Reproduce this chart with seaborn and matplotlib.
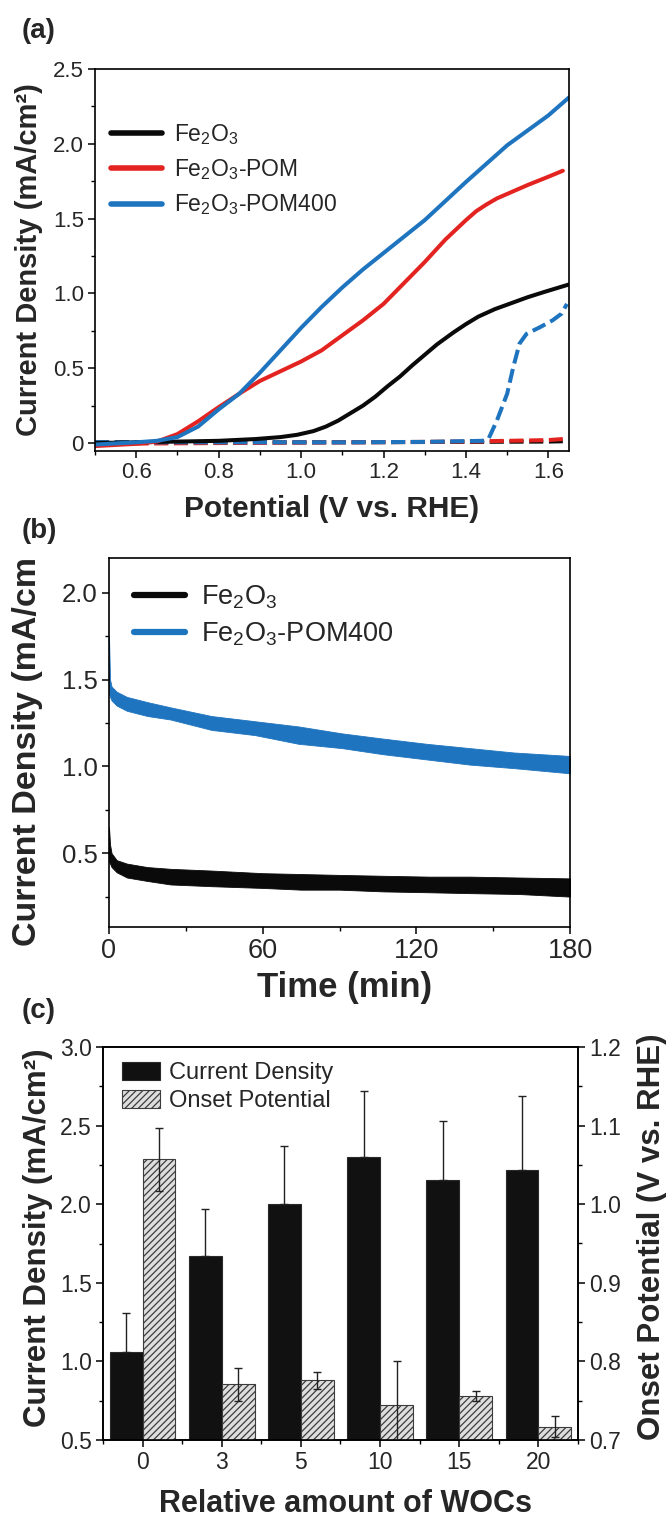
import numpy as np
import matplotlib
matplotlib.use("Agg")
import matplotlib.pyplot as plt
import seaborn as sns
from matplotlib.lines import Line2D
from matplotlib.patches import Patch
from matplotlib.ticker import MultipleLocator, FuncFormatter

# ---------------- data ----------------
# (a) linear sweep voltammetry, potential in V vs. RHE, current in mA/cm2
pot_fe = [0.50, 0.60, 0.70, 0.80, 0.89, 0.95, 0.99, 1.03, 1.06, 1.09, 1.12, 1.15,
          1.18, 1.21, 1.24, 1.27, 1.30, 1.33, 1.37, 1.40, 1.43, 1.47, 1.51, 1.55, 1.59, 1.65]
j_fe = [0.00, 0.005, 0.01, 0.015, 0.027, 0.04, 0.055, 0.08, 0.11, 0.15, 0.20, 0.25,
        0.31, 0.38, 0.445, 0.52, 0.59, 0.66, 0.74, 0.795, 0.845, 0.895, 0.935, 0.975, 1.01, 1.06]

pot_pom = [0.50, 0.60, 0.65, 0.70, 0.75, 0.80, 0.85, 0.90, 0.95, 1.00, 1.05, 1.10,
           1.15, 1.20, 1.25, 1.30, 1.35, 1.40, 1.425, 1.45, 1.475, 1.50, 1.55, 1.60, 1.635]
j_pom = [-0.02, -0.005, 0.01, 0.06, 0.145, 0.24, 0.33, 0.415, 0.48, 0.545, 0.62, 0.72,
         0.82, 0.93, 1.07, 1.21, 1.36, 1.49, 1.55, 1.595, 1.635, 1.665, 1.725, 1.78, 1.82]

pot_pom400 = [0.50, 0.60, 0.65, 0.70, 0.75, 0.80, 0.85, 0.90, 0.95, 1.00, 1.05, 1.10,
              1.15, 1.20, 1.30, 1.40, 1.50, 1.60, 1.65]
j_pom400 = [-0.01, 0.005, 0.015, 0.04, 0.11, 0.225, 0.33, 0.47, 0.62, 0.77, 0.91, 1.04,
            1.16, 1.27, 1.49, 1.745, 1.99, 2.19, 2.31]

# dark scans
pot_fe_dark = [0.50, 0.80, 1.00, 1.20, 1.40, 1.60, 1.635]
j_fe_dark = [0.005, 0.005, 0.005, 0.006, 0.008, 0.01, 0.012]
pot_pom_dark = [0.50, 0.80, 1.00, 1.20, 1.40, 1.60, 1.635]
j_pom_dark = [-0.005, 0.0, 0.003, 0.006, 0.01, 0.02, 0.027]
pot_pom400_dark = [0.50, 0.70, 0.90, 1.10, 1.30, 1.44, 1.455, 1.475, 1.50, 1.515,
                   1.53, 1.547, 1.58, 1.61, 1.632, 1.645]
j_pom400_dark = [0.005, 0.005, 0.005, 0.005, 0.008, 0.015, 0.03, 0.15, 0.33, 0.51,
                 0.665, 0.73, 0.775, 0.82, 0.865, 0.93]

# (b) chronoamperometry: time in min, upper / lower edge of the current trace
t_fe = [0, 0.4, 1.0, 3, 7, 15, 24, 40, 60, 75, 90, 107, 125, 141, 160, 180]
hi_fe = [0.65, 0.55, 0.50, 0.46, 0.44, 0.42, 0.41, 0.40, 0.385, 0.38, 0.375, 0.37, 0.365, 0.365, 0.36, 0.355]
lo_fe = [0.45, 0.44, 0.42, 0.39, 0.36, 0.34, 0.32, 0.31, 0.30, 0.29, 0.29, 0.28, 0.275, 0.27, 0.265, 0.25]

t_pom400 = [0, 0.4, 1.0, 3, 7, 15, 24, 40, 57, 74, 91, 107, 124, 141, 158, 180]
hi_pom400 = [1.75, 1.50, 1.46, 1.43, 1.40, 1.37, 1.34, 1.29, 1.26, 1.23, 1.19, 1.16, 1.13, 1.105, 1.08, 1.06]
lo_pom400 = [1.42, 1.40, 1.38, 1.35, 1.32, 1.29, 1.27, 1.21, 1.18, 1.13, 1.105, 1.07, 1.04, 1.01, 0.99, 0.96]

# (c) statistics versus relative amount of WOCs
woc_labels = ["0", "3", "5", "10", "15", "20"]
cd_mean = [1.06, 1.67, 2.00, 2.30, 2.155, 2.22]
cd_err = [0.25, 0.30, 0.37, 0.42, 0.375, 0.47]
onset_mean = [1.057, 0.771, 0.776, 0.744, 0.756, 0.717]
onset_err = [0.040, 0.021, 0.011, 0.056, 0.006, 0.013]

# ---------------- style ----------------
sns.set_theme(style="ticks")
plt.rcParams["font.family"] = ["Liberation Sans", "DejaVu Sans"]
plt.rcParams["mathtext.fontset"] = "custom"
plt.rcParams["mathtext.rm"] = "Liberation Sans"
plt.rcParams["mathtext.it"] = "Liberation Sans:italic"
plt.rcParams["mathtext.bf"] = "Liberation Sans:bold"
plt.rcParams["mathtext.default"] = "regular"
plt.rcParams["hatch.linewidth"] = 0.9
plt.rcParams["axes.linewidth"] = 1.2

BLACK = "#0a0a0a"
RED = "#e3231f"
BLUE = "#1f74bf"

fig = plt.figure(figsize=(6.68, 15.4), dpi=100)
W, H = 668, 1540


def add_axes_px(left, top, right, bottom):
    return fig.add_axes([left / W, 1 - bottom / H, (right - left) / W, (bottom - top) / H])


def style_ticks(ax, size):
    ax.tick_params(which="major", direction="out", length=5, width=1.1,
                   labelsize=size, color="black", pad=3)
    ax.tick_params(which="minor", direction="out", length=2.8, width=1.0, color="black")
    for s in ax.spines.values():
        s.set_color("black")
        s.set_linewidth(1.2)


# ---------------- (a) ----------------
ax_a = add_axes_px(95, 69, 569, 451)
dash = (3.5, 1.4)
LW = 2.9
for px, py, c in ((pot_fe_dark, j_fe_dark, BLACK),
                  (pot_pom_dark, j_pom_dark, RED),
                  (pot_pom400_dark, j_pom400_dark, BLUE)):
    sns.lineplot(x=px, y=py, ax=ax_a, color=c, lw=LW, sort=False,
                 estimator=None).lines[-1].set_dashes(dash)
for px, py, c in ((pot_fe, j_fe, BLACK), (pot_pom, j_pom, RED), (pot_pom400, j_pom400, BLUE)):
    sns.lineplot(x=px, y=py, ax=ax_a, color=c, lw=LW, sort=False, estimator=None)

ax_a.set_xlim(0.5, 1.65)
ax_a.set_ylim(-0.053, 2.5)
ax_a.set_xticks([0.6, 0.8, 1.0, 1.2, 1.4, 1.6])
ax_a.xaxis.set_minor_locator(MultipleLocator(0.1))
ax_a.yaxis.set_major_locator(MultipleLocator(0.5))
ax_a.yaxis.set_minor_locator(MultipleLocator(0.25))
ax_a.yaxis.set_major_formatter(FuncFormatter(lambda v, p: "0" if abs(v) < 1e-9 else f"{v:.1f}"))
style_ticks(ax_a, 16)
ax_a.set_xlabel("Potential (V vs. RHE)", fontsize=21.5, fontweight="bold")
ax_a.set_ylabel("Current Density (mA/cm²)", fontsize=21, fontweight="bold")
ax_a.xaxis.set_label_coords(0.5, -0.115)
ax_a.yaxis.set_label_coords(-0.11, 0.5)
leg_a = [Line2D([0], [0], color=c, lw=4) for c in (BLACK, RED, BLUE)]
ax_a.legend(leg_a, [r"Fe$_2$O$_3$", r"Fe$_2$O$_3$-POM", r"Fe$_2$O$_3$-POM400"],
            loc="upper left", bbox_to_anchor=(0.015, 0.885), frameon=False, fontsize=16.5,
            handlelength=2.2, handletextpad=0.55, labelspacing=0.45, borderaxespad=0)
fig.text(22 / W, 1 - 18 / H, "(a)", fontsize=20, fontweight="bold", va="top", ha="left")

# ---------------- (b) ----------------
ax_b = add_axes_px(109, 558, 570, 927)
ax_b.fill_between(t_pom400, lo_pom400, hi_pom400, color=BLUE, lw=0.6, edgecolor=BLUE)
ax_b.fill_between(t_fe, lo_fe, hi_fe, color=BLACK, lw=0.6, edgecolor=BLACK)
ax_b.set_xlim(0, 180)
ax_b.set_ylim(0.075, 2.2)
ax_b.set_xticks([0, 60, 120, 180])
ax_b.xaxis.set_minor_locator(MultipleLocator(30))
ax_b.set_yticks([0.5, 1.0, 1.5, 2.0])
ax_b.yaxis.set_minor_locator(MultipleLocator(0.25))
style_ticks(ax_b, 18.5)
ax_b.tick_params(axis="x", labelsize=19.5)
ax_b.set_xlabel("Time (min)", fontsize=25, fontweight="bold")
ax_b.set_ylabel("Current Density (mA/cm", fontsize=24.5, fontweight="bold")
ax_b.xaxis.set_label_coords(0.51, -0.12)
ax_b.yaxis.set_label_coords(-0.143, 0.476)
leg_b = [Line2D([0], [0], color=c, lw=4.5) for c in (BLACK, BLUE)]
ax_b.legend(leg_b, [r"Fe$_2$O$_3$", r"Fe$_2$O$_3$-POM400"],
            loc="upper left", bbox_to_anchor=(0.03, 0.96), frameon=False, fontsize=19.5,
            handlelength=1.9, handletextpad=0.6, labelspacing=0.35, borderaxespad=0)
fig.text(22 / W, 1 - 518 / H, "(b)", fontsize=20, fontweight="bold", va="top", ha="left")

# ---------------- (c) ----------------
ax_c = add_axes_px(103, 1047, 578, 1440)
xpos = np.arange(len(woc_labels))
bw = 0.415
ax_c.bar(xpos - bw / 2, cd_mean, bw, color="#111111", edgecolor="#2a2a2a", lw=0.8, zorder=2)
# only the upper half of the error bar shows above the solid bars
ax_c.errorbar(xpos - bw / 2, cd_mean, yerr=[np.zeros(len(cd_err)), cd_err], fmt="none",
              ecolor="#222222", elinewidth=1.0, capsize=3, capthick=1.0, zorder=3)
ax_c.set_xlim(-0.5, 5.5)
ax_c.set_ylim(0.5, 3.0)
ax_c.set_xticks(xpos)
ax_c.set_xticklabels(woc_labels)
ax_c.xaxis.set_minor_locator(MultipleLocator(0.5))
ax_c.yaxis.set_major_locator(MultipleLocator(0.5))
ax_c.yaxis.set_minor_locator(MultipleLocator(0.25))
style_ticks(ax_c, 16.5)

ax_c2 = ax_c.twinx()
ax_c2.bar(xpos + bw / 2, onset_mean, bw, color="#dedede", edgecolor="#3c3c3c", lw=0.8,
          hatch="/////", zorder=2)
ax_c2.errorbar(xpos + bw / 2, onset_mean, yerr=onset_err, fmt="none", ecolor="#222222",
               elinewidth=1.0, capsize=3, capthick=1.0, zorder=3)
ax_c2.set_ylim(0.7, 1.2)
ax_c2.yaxis.set_major_locator(MultipleLocator(0.1))
ax_c2.yaxis.set_minor_locator(MultipleLocator(0.05))
style_ticks(ax_c2, 16.5)

ax_c.set_xlabel("Relative amount of WOCs", fontsize=22, fontweight="bold")
ax_c.set_ylabel("Current Density (mA/cm²)", fontsize=22.5, fontweight="bold")
ax_c2.set_ylabel("Onset Potential (V vs. RHE)", fontsize=22.5, fontweight="bold")
ax_c.xaxis.set_label_coords(0.51, -0.125)
ax_c.yaxis.set_label_coords(-0.105, 0.515)
ax_c2.yaxis.set_label_coords(1.125, 0.516)

leg_c = [Patch(facecolor="#111111", edgecolor="#2a2a2a", lw=0.8),
         Patch(facecolor="#dedede", edgecolor="#3c3c3c", lw=0.8, hatch="/////")]
ax_c.legend(leg_c, ["Current Density", "Onset Potential"], loc="upper left",
            bbox_to_anchor=(0.02, 0.985), frameon=False, fontsize=17,
            handlelength=1.6, handleheight=0.75, handletextpad=0.4, labelspacing=0.25,
            borderaxespad=0)
fig.text(22 / W, 1 - 998 / H, "(c)", fontsize=20, fontweight="bold", va="top", ha="left")

fig.savefig("out.png", dpi=100, facecolor="white")
